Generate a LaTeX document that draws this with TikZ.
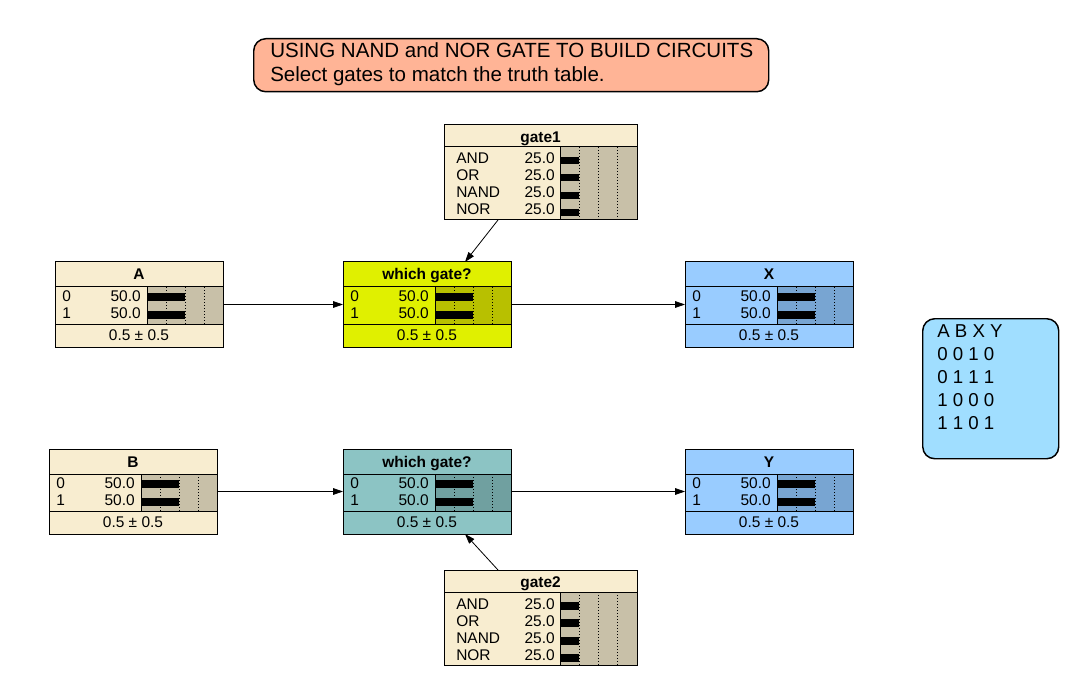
\documentclass[tikz,border=0pt]{standalone}
\usepackage{fontspec}
\setmainfont{Liberation Sans}
\usetikzlibrary{arrows.meta,calc}
\definecolor{cream}{RGB}{248,237,208}
\definecolor{creambar}{RGB}{200,192,168}
\definecolor{ylw}{RGB}{224,240,0}
\definecolor{ylwbar}{RGB}{184,192,0}
\definecolor{blu}{RGB}{153,204,255}
\definecolor{blubar}{RGB}{120,165,210}
\definecolor{teal2}{RGB}{140,196,196}
\definecolor{tealbar}{RGB}{112,160,160}
\definecolor{salmon2}{RGB}{255,180,150}
\definecolor{ttblue}{RGB}{160,222,255}
\tikzset{
  box/.style={draw=black, line width=0.75pt, anchor=north west, inner sep=0pt, outer sep=0pt},
  sep/.style={draw=black, line width=0.75pt},
  dots/.style={black, line width=0.6pt, dash pattern=on 0.75pt off 1.5pt},
  lbl/.style={font=\fontsize{11.6}{13}\selectfont, inner sep=0pt},
  ttl/.style={font=\bfseries\fontsize{11.6}{13}\selectfont, inner sep=0pt},
  arr/.style={-{Triangle[length=7.5pt,width=5pt]}, line width=0.6pt},
  big/.style={font=\fontsize{15.4}{18}\selectfont, inner sep=0pt, anchor=base west},
  tt/.style={font=\fontsize{14}{17}\selectfont, inner sep=0pt, anchor=base west},
}
% two-state node: name, x, y, title, fill, bar fill
\newcommand\twonode[6]{%
  \node[box, fill=#5, minimum width=126pt, minimum height=63.75pt] (#1) at (#2,#3) {};
  \fill[#6] ({#2+92},{#3+25}) rectangle ({#2+168},{#3+62});
  \foreach \k in {1,2,3} \draw[dots] ({#2+92+19*\k},{#3+25}) -- ({#2+92+19*\k},{#3+62});
  \fill[black] ({#2+92},{#3+31}) rectangle ({#2+130},{#3+39});
  \fill[black] ({#2+92},{#3+49}) rectangle ({#2+130},{#3+57});
  \draw[sep] ({#2},{#3+25}) -- ({#2+168},{#3+25});
  \draw[sep] ({#2},{#3+62}) -- ({#2+168},{#3+62});
  \draw[sep] ({#2+92},{#3+25}) -- ({#2+92},{#3+62});
  \draw[sep] (#1.north west) rectangle (#1.south east);
  \node[ttl, anchor=base] (#1-t) at ({#2+84},{#3+18}) {#4};
  \node[lbl, anchor=base west] (#1-s0) at ({#2+7},{#3+39}) {0};
  \node[lbl, anchor=base east] (#1-v0) at ({#2+86},{#3+39}) {50.0};
  \node[lbl, anchor=base west] (#1-s1) at ({#2+7},{#3+56}) {1};
  \node[lbl, anchor=base east] (#1-v1) at ({#2+86},{#3+56}) {50.0};
  \node[lbl, anchor=base] (#1-m) at ({#2+84},{#3+78}) {0.5 ± 0.5};
}
% four-state gate node: name, x, y, title
\newcommand\fournode[4]{%
  \node[box, fill=cream, minimum width=144.75pt, minimum height=71.25pt] (#1) at (#2,#3) {};
  \fill[creambar] ({#2+116},{#3+22}) rectangle ({#2+193},{#3+95});
  \foreach \k in {1,2,3} \draw[dots] ({#2+116+19.25*\k},{#3+22}) -- ({#2+116+19.25*\k},{#3+95});
  \foreach \yy in {32,49,67,84} \fill[black] ({#2+116},{#3+\yy}) rectangle ({#2+135},{#3+\yy+7.5});
  \draw[sep] ({#2},{#3+22}) -- ({#2+193},{#3+22});
  \draw[sep] ({#2+116},{#3+22}) -- ({#2+116},{#3+95});
  \draw[sep] (#1.north west) rectangle (#1.south east);
  \node[ttl, anchor=base] (#1-t) at ({#2+96.5},{#3+17.5}) {#4};
  \node[lbl, anchor=base west] (#1-s1) at ({#2+12},{#3+39}) {AND};
  \node[lbl, anchor=base west] (#1-s2) at ({#2+12},{#3+56}) {OR};
  \node[lbl, anchor=base west] (#1-s3) at ({#2+12},{#3+73}) {NAND};
  \node[lbl, anchor=base west] (#1-s4) at ({#2+12},{#3+90}) {NOR};
  \node[lbl, anchor=base east] (#1-v1) at ({#2+111},{#3+39}) {25.0};
  \node[lbl, anchor=base east] (#1-v2) at ({#2+111},{#3+56}) {25.0};
  \node[lbl, anchor=base east] (#1-v3) at ({#2+111},{#3+73}) {25.0};
  \node[lbl, anchor=base east] (#1-v4) at ({#2+111},{#3+90}) {25.0};
}
\begin{document}
\begin{tikzpicture}[x=0.75pt, y=-0.75pt]
\useasboundingbox[fill=white] (0,0) rectangle (1092,695);
% title box
\node[draw=black, line width=1.1pt, fill=salmon2, rounded corners=9pt, anchor=north west,
      minimum width=386.25pt, minimum height=39.75pt, inner sep=0pt] (title) at (253,38) {};
\node[big] (title1) at (270,58) {USING NAND and NOR GATE TO BUILD CIRCUITS};
\node[big] (title2) at (270,82) {Select gates to match the truth table.};
% truth table
\node[draw=black, line width=1.1pt, fill=ttblue, rounded corners=9pt, anchor=north west,
      minimum width=102pt, minimum height=105pt, inner sep=0pt] (tt) at (922,318) {};
\node[tt] (tt0) at (937,337) {A B X Y};
\node[tt] (tt1) at (937,360) {0 0 1 0};
\node[tt] (tt2) at (937,383) {0 1 1 1};
\node[tt] (tt3) at (937,406) {1 0 0 0};
\node[tt] (tt4) at (937,429) {1 1 0 1};
% nodes
\fournode{gate1}{444}{125}{gate1}
\fournode{gate2}{444}{570}{gate2}
\twonode{A}{55}{262}{A}{cream}{creambar}
\twonode{wg1}{343}{262}{which gate?}{ylw}{ylwbar}
\twonode{X}{685}{262}{X}{blu}{blubar}
\twonode{B}{49}{449}{B}{cream}{creambar}
\twonode{wg2}{343}{449}{which gate?}{teal2}{tealbar}
\twonode{Y}{685}{449}{Y}{blu}{blubar}
% arrows
\draw[arr] (A.east) -- (wg1.west);
\draw[arr] (wg1.east) -- (X.west);
\draw[arr] (B.east) -- (wg2.west);
\draw[arr] (wg2.east) -- (Y.west);
\draw[arr] ($(gate1.south west)+(54,0)$) -- ($(wg1.north west)+(122,0)$);
\draw[arr] ($(gate2.north west)+(54,0)$) -- ($(wg2.south west)+(122,0)$);
\end{tikzpicture}
\end{document}
